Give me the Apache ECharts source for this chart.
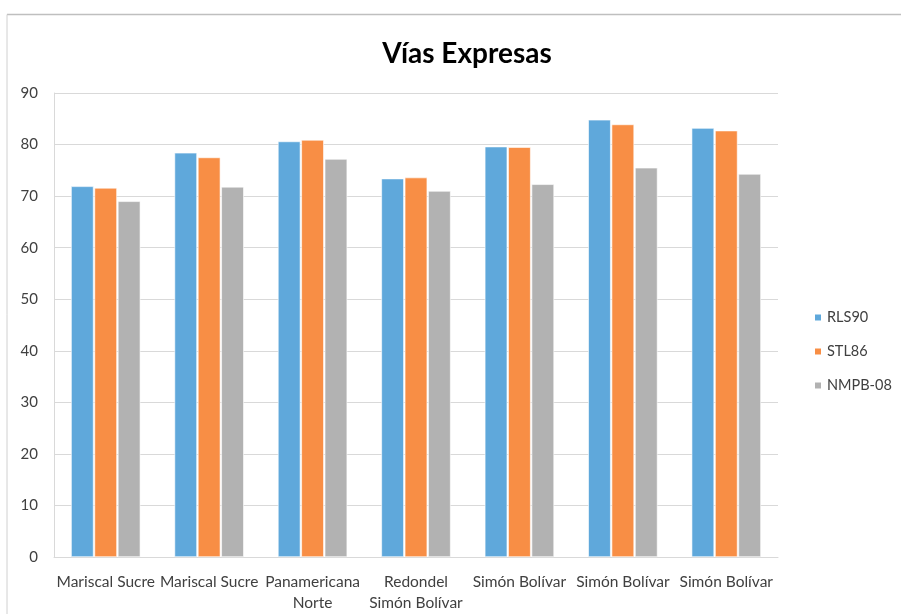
<!DOCTYPE html>
<html>
<head>
<meta charset="utf-8">
<style>
  html, body { margin: 0; padding: 0; background: #ffffff; }
  #chart { width: 901px; height: 614px; }
</style>
<script src="https://cdn.jsdelivr.net/npm/echarts@6/dist/echarts.min.js"></script>
</head>
<body>
<div id="chart"></div>
<script>
// Road sections (category axis)
const categories = [
  'Mariscal Sucre',
  'Mariscal Sucre',
  'Panamericana\nNorte',
  'Redondel\nSimón Bolívar',
  'Simón Bolívar',
  'Simón Bolívar',
  'Simón Bolívar'
];

// Predicted levels per model
const rls90  = [71.9, 78.4, 80.6, 73.4, 79.6, 84.8, 83.2];
const stl86  = [71.6, 77.5, 80.9, 73.6, 79.5, 83.9, 82.7];
const nmpb08 = [69.0, 71.8, 77.2, 71.0, 72.3, 75.5, 74.3];

const yTicks = { min: 0, max: 90, interval: 10 };

const FONT = 'Lato, "Open Sans", sans-serif';

const chart = echarts.init(document.getElementById('chart'), null, { renderer: 'canvas' });

const barSeries = (name, data, color) => ({
  name,
  type: 'bar',
  data,
  barGap: '4%',
  barCategoryGap: '33%',
  itemStyle: { color, borderColor: '#ffffff', borderWidth: 0.6 },
  emphasis: { disabled: true }
});

chart.setOption({
  animation: false,
  backgroundColor: '#ffffff',
  title: {
    text: 'Vías Expresas',
    left: 462,
    top: 35,
    textAlign: 'center',
    textStyle: { fontFamily: FONT, fontSize: 28, fontWeight: 'bold', color: '#000000' }
  },
  legend: {
    orient: 'vertical',
    left: 808,
    top: 305,
    itemWidth: 8,
    itemHeight: 8,
    itemGap: 19,
    icon: 'rect',
    textStyle: { fontFamily: FONT, fontSize: 14.5, color: '#404040' },
    data: ['RLS90', 'STL86', 'NMPB-08']
  },
  grid: { left: 54, right: 123, top: 93, bottom: 57, containLabel: false },
  xAxis: {
    type: 'category',
    data: categories,
    axisLine: { show: true, lineStyle: { color: '#d9d9d9', width: 1 } },
    axisTick: { show: false },
    axisLabel: {
      interval: 0,
      margin: 14,
      fontFamily: FONT,
      fontSize: 15.5,
      color: '#404040',
      lineHeight: 21
    }
  },
  yAxis: {
    type: 'value',
    min: yTicks.min,
    max: yTicks.max,
    interval: yTicks.interval,
    axisLine: { show: true, lineStyle: { color: '#d9d9d9', width: 1 } },
    axisTick: { show: false },
    splitLine: { show: true, lineStyle: { color: '#d9d9d9', width: 1 } },
    axisLabel: { fontFamily: FONT, fontSize: 15, color: '#404040', margin: 16 }
  },
  graphic: [
    { type: 'line', shape: { x1: 7, y1: 14.5, x2: 901, y2: 14.5 }, style: { stroke: '#bfbfbf', lineWidth: 1.5 }, silent: true },
    { type: 'line', shape: { x1: 7, y1: 14.5, x2: 7, y2: 614 }, style: { stroke: '#d0d0d0', lineWidth: 1 }, silent: true }
  ],
  series: [
    barSeries('RLS90', rls90, '#5fa8db'),
    barSeries('STL86', stl86, '#f88e45'),
    barSeries('NMPB-08', nmpb08, '#b2b2b2')
  ]
});
</script>
</body>
</html>
